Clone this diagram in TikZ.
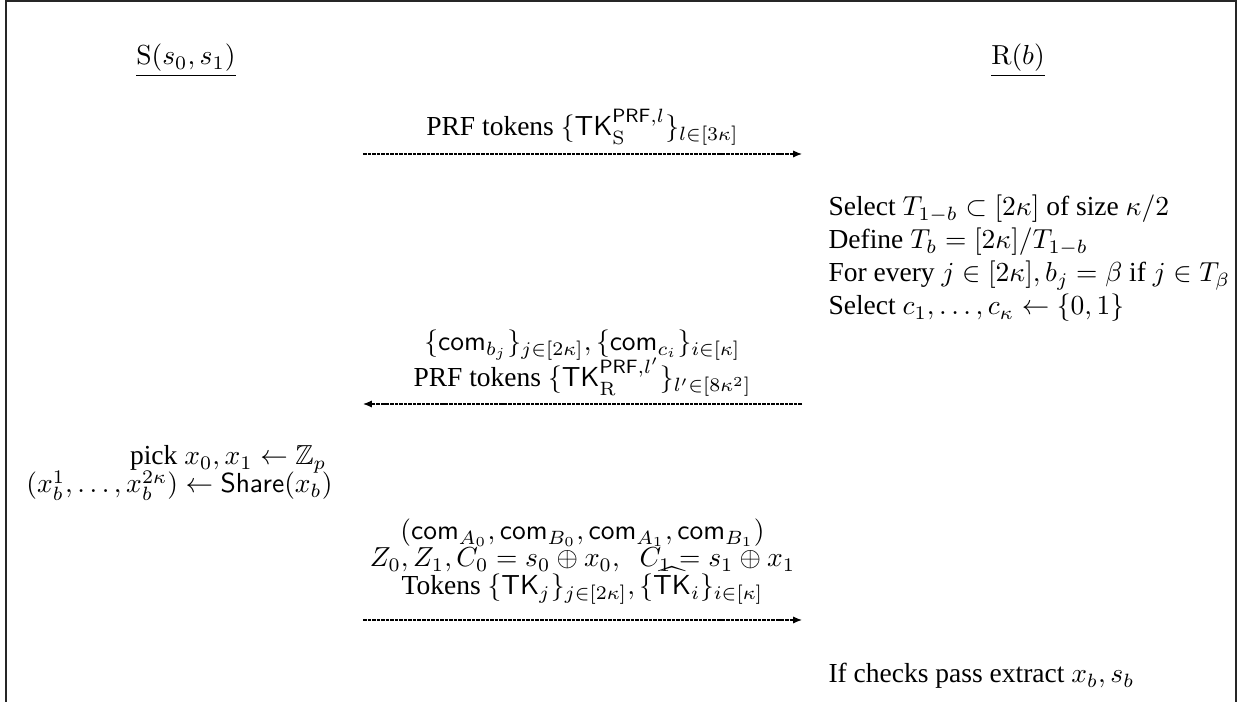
\documentclass[tikz,border=0pt]{standalone}
\usepackage{amsmath,amssymb}
\usepackage[no-math]{fontspec}
\setmainfont{Liberation Serif}
\setmathsf{Liberation Sans}
\usetikzlibrary{arrows.meta}
\tikzset{
  msg/.style={line width=0.45pt, dash pattern=on 1.3pt off 0.35pt, -{Latex[length=3.2pt,width=2.6pt]}},
  lbl/.style={anchor=base, inner sep=0pt, font=\normalsize},
  lft/.style={anchor=base west, inner sep=0pt},
  rgt/.style={anchor=base east, inner sep=0pt},
  frame/.style={line width=0.7pt, draw=black!85}
}
\begin{document}
\begin{tikzpicture}[x=0.3636pt,y=-0.3636pt]
\useasboundingbox (0,0) rectangle (1238,702);
\coordinate (f1) at (6,702);
\coordinate (f2) at (6,1);
\coordinate (f3) at (1236,1);
\coordinate (f4) at (1236,702);
\draw[frame] (f1) -- (f2) -- (f3) -- (f4);

% headers
\node[lbl] (S) at (186,65) {$\underline{\mathrm{S}(s_0,s_1)}$};
\node[lbl] (R) at (1018,65) {$\underline{\mathrm{R}(b)}$};

% message 1
\coordinate (m1a) at (363,154);
\coordinate (m1b) at (802,154);
\node[lbl] (l1) at (582.5,136) {PRF tokens $\{\mathsf{TK}_{\mathrm{S}}^{\mathsf{PRF},l}\}_{l\in[3\kappa]}$};
\draw[msg] (m1a) -- (m1b);

% receiver block
\node[lft] (r1) at (828,216) {Select $T_{1-b}\subset[2\kappa]$ of size $\kappa/2$};
\node[lft] (r2) at (828,249) {Define $T_b=[2\kappa]/T_{1-b}$};
\node[lft] (r3) at (828,282) {For every $j\in[2\kappa],b_j=\beta$ if $j\in T_\beta$};
\node[lft] (r4) at (828,315) {Select $c_1,\ldots,c_\kappa\leftarrow\{0,1\}$};

% message 2
\coordinate (m2a) at (802,404);
\coordinate (m2b) at (363,404);
\node[lbl] (l2a) at (582.5,351) {$\{\mathsf{com}_{b_j}\}_{j\in[2\kappa]},\{\mathsf{com}_{c_i}\}_{i\in[\kappa]}$};
\node[lbl] (l2b) at (582.5,387) {PRF tokens $\{\mathsf{TK}_{\mathrm{R}}^{\mathsf{PRF},l'}\}_{l'\in[8\kappa^2]}$};
\draw[msg] (m2a) -- (m2b);

% sender block
\node[rgt] (s1) at (327,465) {pick $x_0,x_1\leftarrow\mathbb{Z}_p$};
\node[rgt] (s2) at (333,493) {$(x_b^1,\ldots,x_b^{2\kappa})\leftarrow\mathsf{Share}(x_b)$};

% message 3
\coordinate (m3a) at (363,620);
\coordinate (m3b) at (802,620);
\node[lbl] (l3a) at (582.5,540) {$(\mathsf{com}_{A_0},\mathsf{com}_{B_0},\mathsf{com}_{A_1},\mathsf{com}_{B_1})$};
\node[lbl] (l3b) at (582.5,567) {$Z_0,Z_1,C_0=s_0\oplus x_0,\;\;C_1=s_1\oplus x_1$};
\node[lbl] (l3c) at (582.5,595) {Tokens $\{\mathsf{TK}_j\}_{j\in[2\kappa]},\{\widehat{\mathsf{TK}}_i\}_{i\in[\kappa]}$};
\draw[msg] (m3a) -- (m3b);

% final
\node[lft] (r5) at (828,683) {If checks pass extract $x_b,s_b$};
\end{tikzpicture}
\end{document}
